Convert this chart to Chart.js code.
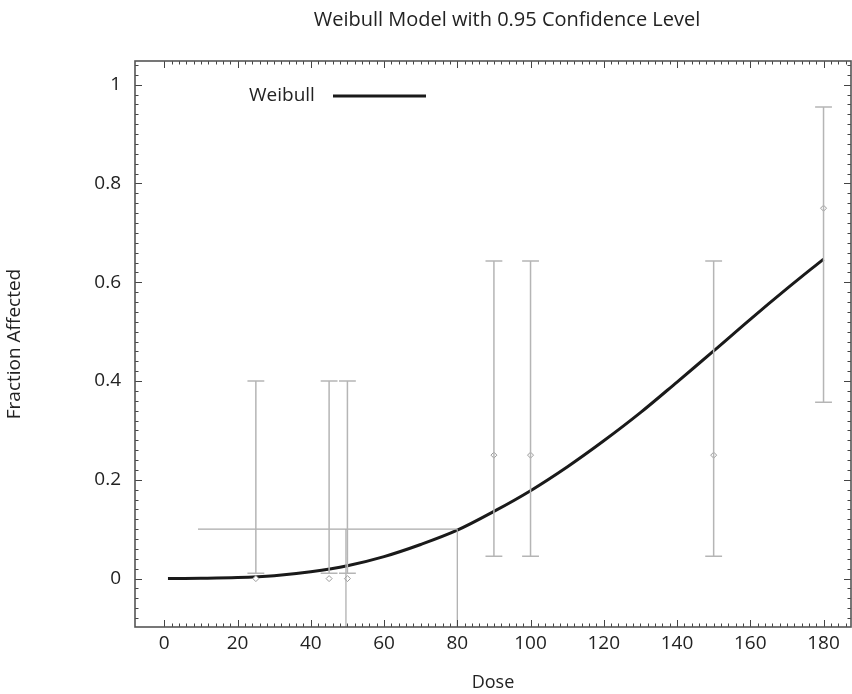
<!DOCTYPE html>
<html>
<head>
<meta charset="utf-8">
<script src="https://cdn.jsdelivr.net/npm/chart.js@4.4.0/dist/chart.umd.min.js"></script>
<style>
  html, body { margin: 0; padding: 0; background: #ffffff; }
  #wrap { width: 852px; height: 694px; }
</style>
</head>
<body>
<div id="wrap"><canvas id="weibullChart" width="852" height="694"></canvas></div>
<script>
// Observed doses, fractions and 95% confidence limits
var doses = [25, 45, 50, 90, 100, 150, 180];
var observed = [0, 0, 0, 0.25, 0.25, 0.25, 0.75];
var lowerCL = [0.011, 0.011, 0.011, 0.045, 0.045, 0.045, 0.357];
var upperCL = [0.4, 0.4, 0.4, 0.643, 0.643, 0.643, 0.955];

// Fitted Weibull curve
var curveDose = [1, 10, 20, 30, 40, 50, 60, 70, 80, 90, 100, 110, 120, 130, 140, 150, 160, 170, 180];
var curveFrac = [0, 0.0005, 0.002, 0.006, 0.014, 0.026, 0.0445, 0.069, 0.098, 0.136, 0.178, 0.226, 0.279, 0.336, 0.398, 0.461, 0.525, 0.587, 0.647];

// Benchmark lines (BMR level, BMDL and BMD)
var bmrLevel = 0.1;
var bmrLineFrom = 9.2;
var bmdl = 49.6;
var bmd = 80;

// Axis ticks
var xTicks = [0, 20, 40, 60, 80, 100, 120, 140, 160, 180];
var yTicks = [0, 0.2, 0.4, 0.6, 0.8, 1];

var FONT = "'Open Sans', sans-serif";
var capHalf = 2.3;

// Build error bar segments (null y breaks the line)
var barSegs = [];
for (var i = 0; i < doses.length; i++) {
    var d = doses[i];
    barSegs.push({x: d, y: lowerCL[i]}, {x: d, y: upperCL[i]}, {x: d, y: null});
    barSegs.push({x: d - capHalf, y: upperCL[i]}, {x: d + capHalf, y: upperCL[i]}, {x: d, y: null});
    barSegs.push({x: d - capHalf, y: lowerCL[i]}, {x: d + capHalf, y: lowerCL[i]}, {x: d, y: null});
}

var refSegs = [
    {x: bmrLineFrom, y: bmrLevel}, {x: bmd, y: bmrLevel}, {x: bmd, y: null},
    {x: bmdl, y: bmrLevel}, {x: bmdl, y: -0.3}, {x: bmdl, y: null},
    {x: bmd, y: bmrLevel}, {x: bmd, y: -0.3}
];

var obsPoints = doses.map(function (d, i) { return {x: d, y: observed[i]}; });
var curvePoints = curveDose.map(function (d, i) { return {x: d, y: curveFrac[i]}; });

// Frame, inward ticks, title and legend
var framePlugin = {
    id: 'frame',
    afterDraw: function (chart) {
        var ctx = chart.ctx;
        var a = chart.chartArea;
        var xs = chart.scales.x, ys = chart.scales.y;
        ctx.save();
        ctx.strokeStyle = '#444';
        ctx.lineWidth = 1;
        // x ticks, minor every 2
        for (var v = 0; v <= 186; v += 2) {
            var px = Math.round(xs.getPixelForValue(v)) + 0.5;
            if (px < a.left || px > a.right) continue;
            var len = (v % 20 === 0) ? 7 : 3.5;
            ctx.beginPath();
            ctx.moveTo(px, a.bottom); ctx.lineTo(px, a.bottom - len);
            ctx.moveTo(px, a.top); ctx.lineTo(px, a.top + len);
            ctx.stroke();
        }
        // y ticks, minor every 0.02
        for (var k = -4; k <= 52; k++) {
            var val = k * 0.02;
            var py = Math.round(ys.getPixelForValue(val)) + 0.5;
            if (py < a.top || py > a.bottom) continue;
            var l2 = (k % 10 === 0) ? 7 : 3.5;
            ctx.beginPath();
            ctx.moveTo(a.left, py); ctx.lineTo(a.left + l2, py);
            ctx.moveTo(a.right, py); ctx.lineTo(a.right - l2, py);
            ctx.stroke();
        }
        // box
        ctx.strokeStyle = '#555';
        ctx.lineWidth = 1.6;
        ctx.strokeRect(a.left, a.top, a.right - a.left, a.bottom - a.top);

        // title
        ctx.fillStyle = '#222';
        ctx.font = '20px ' + FONT;
        ctx.textAlign = 'center';
        ctx.textBaseline = 'middle';
        ctx.fillText('Weibull Model with 0.95 Confidence Level', 507, 20);

        // legend
        ctx.font = '19px ' + FONT;
        ctx.textAlign = 'left';
        ctx.fillText('Weibull', 249, 96);
        ctx.strokeStyle = '#1a1a1a';
        ctx.lineWidth = 3;
        ctx.beginPath();
        ctx.moveTo(333, 96); ctx.lineTo(426, 96);
        ctx.stroke();
        ctx.restore();
    }
};

var canvas = document.getElementById('weibullChart');
if (canvas && canvas.getContext) {
    var weibullChart = new Chart(canvas, {
        type: 'scatter',
        data: {
            datasets: [
                {
                    label: 'Confidence limits',
                    data: barSegs,
                    showLine: true,
                    spanGaps: false,
                    borderColor: '#b5b5b5',
                    borderWidth: 1.5,
                    pointRadius: 0,
                    clip: 0
                },
                {
                    label: 'Benchmark',
                    data: refSegs,
                    showLine: true,
                    spanGaps: false,
                    borderColor: '#aaaaaa',
                    borderWidth: 1.2,
                    pointRadius: 0,
                    clip: 0
                },
                {
                    label: 'Observed',
                    data: obsPoints,
                    showLine: false,
                    pointStyle: 'rectRot',
                    pointRadius: 3,
                    pointBorderColor: '#9a9a9a',
                    pointBackgroundColor: '#ffffff',
                    pointBorderWidth: 1,
                    clip: 0
                },
                {
                    label: 'Weibull',
                    data: curvePoints,
                    showLine: true,
                    borderColor: '#1a1a1a',
                    borderWidth: 3,
                    pointRadius: 0,
                    tension: 0.35,
                    clip: 0
                }
            ]
        },
        options: {
            responsive: false,
            animation: false,
            layout: { autoPadding: false, padding: { top: 61, right: 1, bottom: 0, left: 0 } },
            plugins: {
                legend: { display: false },
                title: { display: false },
                tooltip: { enabled: false }
            },
            scales: {
                x: {
                    type: 'linear',
                    min: -8,
                    max: 187.5,
                    grid: { display: false, drawTicks: false },
                    border: { display: false },
                    afterBuildTicks: function (scale) {
                        scale.ticks = xTicks.map(function (v) { return {value: v}; });
                    },
                    afterFit: function (scale) {
                        scale.height = 67;
                        scale.paddingLeft = 0;
                        scale.paddingRight = 0;
                    },
                    ticks: {
                        padding: 5,
                        maxRotation: 0,
                        color: '#222',
                        font: { family: FONT, size: 19 }
                    },
                    title: {
                        display: true,
                        text: 'Dose',
                        color: '#222',
                        font: { family: FONT, size: 18 },
                        padding: { top: 0, bottom: 0 }
                    }
                },
                y: {
                    type: 'linear',
                    min: -0.098,
                    max: 1.048,
                    grid: { display: false, drawTicks: false },
                    border: { display: false },
                    afterBuildTicks: function (scale) {
                        scale.ticks = yTicks.map(function (v) { return {value: v}; });
                    },
                    afterFit: function (scale) {
                        scale.width = 135;
                        scale.paddingTop = 0;
                        scale.paddingBottom = 0;
                    },
                    ticks: {
                        padding: 14,
                        color: '#222',
                        font: { family: FONT, size: 19 },
                        callback: function (v) { return String(Math.round(v * 10) / 10); }
                    },
                    title: {
                        display: true,
                        text: 'Fraction Affected',
                        color: '#222',
                        font: { family: FONT, size: 19 },
                        padding: { top: 3, bottom: 0 }
                    }
                }
            }
        },
        plugins: [framePlugin]
    });
}
</script>
</body>
</html>
